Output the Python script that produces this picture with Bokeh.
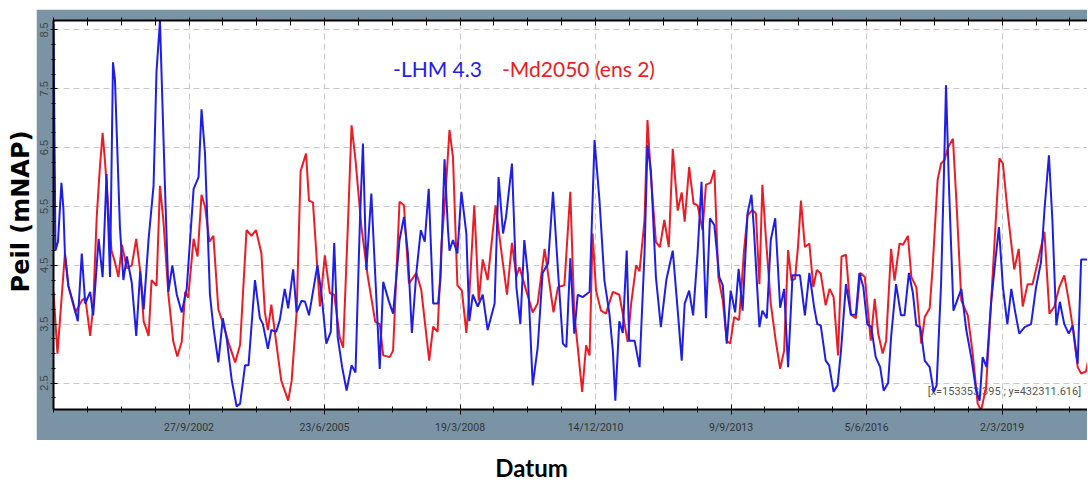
import math
import pandas as pd
from bokeh.plotting import figure
from bokeh.models import Range1d, FixedTicker, LinearAxis, Label, Spacer
from bokeh.layouts import row, column
from bokeh.embed import file_html
from bokeh.resources import INLINE

# ---------------- data (decimal years, heads in m NAP) ----------------
blue_t = [2000.00, 2000.04, 2000.09, 2000.16, 2000.20, 2000.23, 2000.30, 2000.40, 2000.49, 2000.57,
          2000.64, 2000.74, 2000.80, 2000.91, 2000.99, 2001.07, 2001.14, 2001.20, 2001.24, 2001.34,
          2001.41, 2001.48, 2001.58, 2001.67, 2001.75, 2001.82, 2001.92, 2002.02, 2002.08, 2002.15,
          2002.18, 2002.25, 2002.32, 2002.40, 2002.49, 2002.59, 2002.69, 2002.83, 2002.93, 2002.99,
          2003.06, 2003.16, 2003.23, 2003.33, 2003.42, 2003.50, 2003.60, 2003.70, 2003.77, 2003.87,
          2003.94, 2004.07, 2004.17, 2004.23, 2004.33, 2004.40, 2004.50, 2004.57, 2004.67, 2004.74,
          2004.84, 2004.91, 2005.01, 2005.08, 2005.16, 2005.33, 2005.41, 2005.51, 2005.60, 2005.67,
          2005.74, 2005.83, 2005.92, 2006.02, 2006.10, 2006.19, 2006.25, 2006.32, 2006.42, 2006.59,
          2006.66, 2006.77, 2006.86, 2006.99, 2007.08, 2007.16, 2007.24, 2007.33, 2007.42, 2007.50,
          2007.58, 2007.67, 2007.77, 2007.82, 2007.90, 2007.97, 2008.00, 2008.07, 2008.16, 2008.24,
          2008.34, 2008.40, 2008.47, 2008.57, 2008.67, 2008.77, 2008.91, 2008.99, 2009.08, 2009.14,
          2009.26, 2009.35, 2009.43, 2009.51, 2009.58, 2009.68, 2009.78, 2009.88, 2009.99, 2010.09,
          2010.19, 2010.29, 2010.36, 2010.44, 2010.52, 2010.59, 2010.69, 2010.83, 2010.93, 2011.03,
          2011.13, 2011.23, 2011.30, 2011.35, 2011.43, 2011.50, 2011.58, 2011.63, 2011.74, 2011.84,
          2011.94, 2012.00, 2012.07, 2012.17, 2012.27, 2012.38, 2012.51, 2012.61, 2012.69, 2012.75,
          2012.84, 2012.92, 2013.01, 2013.09, 2013.18, 2013.26, 2013.35, 2013.45, 2013.52, 2013.60,
          2013.68, 2013.77, 2013.84, 2013.92, 2014.02, 2014.10, 2014.15, 2014.26, 2014.32, 2014.41,
          2014.49, 2014.58, 2014.68, 2014.76, 2014.84, 2014.93, 2015.08, 2015.18, 2015.27, 2015.37,
          2015.43, 2015.50, 2015.60, 2015.67, 2015.76, 2015.84, 2015.91, 2016.01, 2016.11, 2016.21,
          2016.28, 2016.36, 2016.44, 2016.52, 2016.61, 2016.70, 2016.77, 2016.86, 2016.92, 2017.02,
          2017.12, 2017.19, 2017.28, 2017.36, 2017.43, 2017.51, 2017.60, 2017.70, 2017.78, 2017.84,
          2017.93, 2017.99, 2018.03, 2018.09, 2018.18, 2018.34, 2018.44, 2018.54, 2018.64, 2018.71,
          2018.77, 2018.85, 2018.94, 2019.03, 2019.10, 2019.18, 2019.27, 2019.35, 2019.43, 2019.51,
          2019.62, 2019.75, 2019.85, 2019.95, 2020.02, 2020.11, 2020.18, 2020.26, 2020.33, 2020.42,
          2020.51, 2020.59, 2020.69, 2020.76, 2020.92]
blue_v = [8.60, 4.75, 4.90, 5.90, 5.45, 4.70, 4.15, 3.85, 3.55, 4.70,
          3.85, 4.05, 3.65, 4.95, 4.30, 6.05, 4.30, 7.95, 7.65, 5.15,
          4.25, 4.65, 4.20, 3.30, 4.40, 3.75, 4.95, 5.85, 7.80, 8.65,
          7.80, 5.85, 4.05, 4.50, 4.00, 3.70, 4.10, 5.80, 6.00, 7.15,
          6.40, 4.00, 3.45, 2.85, 3.60, 3.25, 2.55, 2.10, 2.15, 2.80,
          2.80, 4.25, 3.60, 3.50, 3.08, 3.40, 3.37, 3.57, 4.10, 3.77,
          4.43, 3.70, 3.90, 3.88, 3.65, 4.50, 4.03, 3.17, 3.37, 4.88,
          3.28, 2.77, 2.37, 2.80, 2.68, 5.27, 6.57, 4.42, 5.72, 2.74,
          4.22, 3.90, 3.68, 4.93, 5.32, 4.70, 3.35, 4.37, 5.10, 4.90,
          5.80, 3.85, 3.85, 4.30, 6.30, 5.10, 4.75, 4.93, 4.70, 5.75,
          5.04, 3.55, 4.00, 3.80, 4.00, 3.40, 3.85, 6.00, 5.04, 5.32,
          6.23, 4.13, 3.50, 4.93, 4.36, 2.46, 3.10, 4.37, 4.53, 5.75,
          4.42, 3.17, 3.11, 4.62, 3.34, 4.00, 3.96, 4.05, 6.63, 5.60,
          4.24, 3.68, 3.05, 2.20, 3.55, 3.35, 4.75, 3.22, 3.22, 2.77,
          4.70, 6.54, 6.10, 4.30, 3.45, 4.25, 4.75, 3.73, 2.88, 3.85,
          4.07, 3.65, 4.70, 5.92, 3.60, 5.30, 5.18, 4.30, 4.16, 3.17,
          4.07, 3.70, 4.44, 3.73, 5.38, 5.70, 5.10, 3.45, 3.73, 3.60,
          4.93, 5.30, 3.78, 4.10, 2.77, 4.33, 4.33, 3.65, 4.37, 3.77,
          3.50, 3.48, 2.88, 2.80, 2.35, 2.46, 3.05, 4.18, 3.66, 3.66,
          4.37, 4.13, 3.50, 3.45, 2.94, 2.77, 2.37, 2.50, 3.28, 4.18,
          3.65, 3.65, 4.37, 4.03, 3.48, 3.45, 2.88, 2.77, 2.35, 2.46,
          4.18, 6.12, 7.56, 5.84, 3.73, 4.10, 3.40, 2.94, 2.37, 2.20,
          2.94, 2.77, 3.85, 4.60, 5.15, 4.13, 3.50, 4.10, 3.70, 3.34,
          3.45, 3.50, 4.13, 4.55, 5.44, 6.37, 5.27, 3.48, 3.88, 3.50,
          3.34, 3.48, 2.83, 4.60, 4.60]

red_t = [2000.00, 2000.08, 2000.23, 2000.30, 2000.44, 2000.57, 2000.64, 2000.74, 2000.80, 2000.87,
         2000.93, 2000.99, 2001.04, 2001.11, 2001.17, 2001.24, 2001.31, 2001.38, 2001.48, 2001.58,
         2001.67, 2001.75, 2001.82, 2001.92, 2001.98, 2002.08, 2002.15, 2002.22, 2002.32, 2002.42,
         2002.50, 2002.59, 2002.66, 2002.72, 2002.83, 2002.91, 2002.99, 2003.06, 2003.15, 2003.23,
         2003.33, 2003.43, 2003.53, 2003.67, 2003.77, 2003.90, 2004.00, 2004.09, 2004.20, 2004.27,
         2004.33, 2004.40, 2004.47, 2004.60, 2004.74, 2004.81, 2004.91, 2004.99, 2005.10, 2005.16,
         2005.24, 2005.38, 2005.48, 2005.58, 2005.67, 2005.78, 2005.85, 2005.95, 2006.02, 2006.10,
         2006.22, 2006.35, 2006.50, 2006.59, 2006.66, 2006.79, 2006.86, 2006.99, 2007.08, 2007.18,
         2007.33, 2007.43, 2007.59, 2007.67, 2007.76, 2007.84, 2007.92, 2008.00, 2008.07, 2008.16,
         2008.25, 2008.34, 2008.40, 2008.50, 2008.59, 2008.67, 2008.77, 2008.93, 2009.01, 2009.16,
         2009.26, 2009.35, 2009.41, 2009.51, 2009.68, 2009.78, 2009.92, 2010.02, 2010.10, 2010.19,
         2010.32, 2010.44, 2010.52, 2010.59, 2010.68, 2010.76, 2010.83, 2010.89, 2010.96, 2011.06,
         2011.16, 2011.30, 2011.43, 2011.50, 2011.60, 2011.67, 2011.77, 2011.84, 2011.94, 2012.00,
         2012.07, 2012.17, 2012.25, 2012.34, 2012.43, 2012.51, 2012.61, 2012.69, 2012.75, 2012.84,
         2012.93, 2013.01, 2013.11, 2013.18, 2013.27, 2013.35, 2013.43, 2013.52, 2013.60, 2013.67,
         2013.75, 2013.85, 2013.95, 2014.02, 2014.12, 2014.19, 2014.26, 2014.32, 2014.39, 2014.49,
         2014.59, 2014.68, 2014.76, 2014.84, 2014.91, 2014.98, 2015.04, 2015.10, 2015.18, 2015.27,
         2015.35, 2015.42, 2015.50, 2015.60, 2015.68, 2015.76, 2015.85, 2015.92, 2016.01, 2016.11,
         2016.21, 2016.30, 2016.39, 2016.51, 2016.59, 2016.66, 2016.75, 2016.82, 2016.92, 2016.99,
         2017.09, 2017.16, 2017.26, 2017.33, 2017.43, 2017.53, 2017.60, 2017.70, 2017.76, 2017.86,
         2017.93, 2018.00, 2018.07, 2018.17, 2018.24, 2018.34, 2018.47, 2018.57, 2018.67, 2018.74,
         2018.84, 2018.94, 2019.04, 2019.11, 2019.18, 2019.28, 2019.41, 2019.50, 2019.58, 2019.68,
         2019.78, 2019.89, 2020.02, 2020.12, 2020.22, 2020.32, 2020.42, 2020.51, 2020.59, 2020.69,
         2020.76, 2020.86, 2020.92]
red_v = [4.05, 3.00, 4.70, 4.15, 3.70, 3.90, 3.95, 3.30, 3.80, 5.30,
         6.10, 6.75, 6.25, 5.40, 4.75, 4.55, 4.30, 4.85, 4.45, 4.50,
         4.95, 4.40, 3.55, 3.30, 4.25, 4.15, 5.85, 5.25, 4.00, 3.20,
         2.95, 3.20, 4.05, 3.95, 4.95, 4.65, 5.70, 5.50, 4.90, 5.00,
         3.75, 3.50, 3.20, 2.85, 3.15, 5.10, 5.00, 5.10, 4.70, 3.70,
         3.40, 3.83, 3.37, 2.54, 2.20, 2.54, 3.70, 6.10, 6.40, 5.60,
         5.57, 3.80, 4.67, 4.03, 4.00, 3.28, 3.10, 5.27, 6.88, 6.29,
         5.15, 4.30, 3.54, 3.50, 2.97, 2.94, 3.05, 5.58, 5.52, 4.19,
         4.37, 4.08, 2.88, 3.46, 3.37, 4.87, 5.72, 6.80, 6.34, 4.16,
         4.07, 3.35, 4.00, 5.52, 3.90, 4.60, 4.25, 5.52, 4.97, 4.00,
         4.88, 4.30, 4.47, 4.18, 3.70, 3.85, 4.78, 4.18, 3.70, 4.13,
         4.16, 5.75, 3.68, 3.11, 2.35, 3.14, 2.97, 5.04, 4.07, 3.73,
         3.68, 4.05, 4.00, 3.68, 3.20, 3.85, 4.50, 4.40, 5.27, 6.97,
         6.00, 4.90, 4.81, 5.27, 4.81, 6.48, 5.43, 5.74, 5.24, 6.17,
         5.55, 5.52, 5.10, 5.87, 5.90, 6.12, 4.30, 3.90, 3.22, 3.17,
         3.62, 3.57, 4.76, 5.35, 5.44, 5.38, 4.18, 5.87, 4.98, 3.85,
         3.22, 2.74, 3.05, 4.76, 4.24, 4.27, 4.81, 5.60, 4.81, 4.87,
         4.13, 4.42, 4.36, 3.82, 4.10, 3.96, 2.97, 4.65, 4.68, 3.66,
         3.60, 4.37, 4.30, 3.22, 3.93, 3.34, 3.00, 3.22, 4.78, 4.24,
         4.87, 4.85, 5.00, 4.30, 4.13, 3.17, 3.62, 3.77, 4.47, 5.95,
         6.23, 6.29, 6.50, 6.65, 5.60, 3.90, 3.65, 3.00, 2.15, 2.03,
         2.43, 3.85, 5.32, 6.32, 6.23, 5.38, 4.43, 4.78, 3.80, 4.18,
         4.18, 4.58, 5.07, 3.68, 3.80, 4.13, 4.33, 3.90, 3.45, 2.77,
         2.66, 2.70, 2.97]

x_tick_dates = ["2002-09-27", "2005-06-23", "2008-03-19", "2010-12-14",
                "2013-09-09", "2016-06-05", "2019-03-02"]
x_tick_labels = ["27/9/2002", "23/6/2005", "19/3/2008", "14/12/2010",
                 "9/9/2013", "5/6/2016", "2/3/2019"]
y_ticks = [2.5, 3.5, 4.5, 5.5, 6.5, 7.5, 8.5]
series_names = ["-LHM 4.3", "-Md2050 (ens 2)"]
series_colors = ["#1e1ee8", "#ec1c24"]

FRAME = "#7a94a6"


def dec_to_ms(years):
    out = []
    for y in years:
        yi = int(y)
        s = pd.Timestamp(year=yi, month=1, day=1)
        e = pd.Timestamp(year=yi + 1, month=1, day=1)
        out.append((s + (e - s) * (y - yi)).value / 1e6)
    return out


def date_ms(s):
    return pd.Timestamp(s).value // 10**6


x0 = pd.Timestamp("2000-01-01")
x1 = pd.Timestamp("2020-11-21")

major_ms = [date_ms(d) for d in x_tick_dates]
minor_ms = [(x0 + pd.Timedelta(days=250 * k)).value // 10**6 for k in range(0, 32)]
x_ticker = FixedTicker(ticks=major_ms, minor_ticks=minor_ms)
top_ticker = FixedTicker(ticks=[], minor_ticks=minor_ms)
y_minor = [2.0 + 0.25 * k for k in range(0, 28)]
y_ticker = FixedTicker(ticks=y_ticks, minor_ticks=y_minor)

p = figure(width=1051, height=431, x_axis_type="datetime",
           output_backend="svg", toolbar_location=None,
           x_range=Range1d(x0.value // 10**6, x1.value // 10**6),
           y_range=Range1d(2.05, 8.66),
           min_border_left=17, min_border_right=0, min_border_top=11, min_border_bottom=31,
           border_fill_color=FRAME, background_fill_color="white",
           outline_line_color=None)

# bottom axis
xa = p.xaxis[0]
xa.ticker = x_ticker
xa.major_label_overrides = {m: l for m, l in zip(major_ms, x_tick_labels)}
xa.axis_line_color = "black"
xa.axis_line_width = 2
xa.major_tick_line_color = "black"
xa.major_tick_in = 5
xa.major_tick_out = 5
xa.minor_tick_line_color = "black"
xa.minor_tick_in = 3
xa.minor_tick_out = 3
xa.major_label_standoff = 6
xa.major_label_text_font = "Roboto"
xa.major_label_text_font_size = "10.5px"
xa.major_label_text_color = "#333333"

# left axis
ya = p.yaxis[0]
ya.ticker = y_ticker
ya.axis_line_color = "black"
ya.axis_line_width = 2
ya.major_tick_line_color = "black"
ya.major_tick_in = 4
ya.major_tick_out = 3
ya.minor_tick_line_color = "black"
ya.minor_tick_in = 2
ya.minor_tick_out = 2
ya.major_label_standoff = 2
ya.major_label_orientation = "vertical"
ya.major_label_text_font = "Liberation Sans"
ya.major_label_text_font_size = "11px"
ya.major_label_text_color = "#444444"

# top axis (tick marks only)
ta = LinearAxis(ticker=top_ticker, axis_line_color="black", axis_line_width=2,
                major_tick_line_color="black", major_tick_in=5, major_tick_out=3,
                minor_tick_line_color="black", minor_tick_in=5, minor_tick_out=3,
                major_label_standoff=0)
p.add_layout(ta, "above")

for g in (p.xgrid, p.ygrid):
    g.grid_line_color = "#c8c8c8"
    g.grid_line_dash = "6 4"
    g.grid_line_width = 1
p.xgrid.ticker = x_ticker
p.ygrid.ticker = y_ticker

# coordinate read-out text (under the lines)
p.add_layout(Label(x=dec_to_ms([2017.66])[0], y=2.36, text="[x=153353.395 ; y=432311.616]",
                   text_font="Roboto", text_font_size="11px", text_color="#555555",
                   text_baseline="middle", level="underlay"))

p.line(dec_to_ms(red_t), red_v, line_color=series_colors[1], line_width=2)
p.line(dec_to_ms(blue_t), blue_v, line_color=series_colors[0], line_width=2)

p.add_layout(Label(x=dec_to_ms([2006.86])[0], y=7.85, text=series_names[0],
                   text_font="Lato", text_font_size="21px", text_color=series_colors[0],
                   text_baseline="middle"))
p.add_layout(Label(x=dec_to_ms([2009.06])[0], y=7.85, text=series_names[1],
                   text_font="Lato", text_font_size="21px", text_color=series_colors[1],
                   text_baseline="middle"))

# y-axis title panel
yl = figure(width=36, height=440, output_backend="svg", toolbar_location=None,
            x_range=Range1d(0, 36), y_range=Range1d(0, 440),
            x_axis_location=None, y_axis_location=None,
            min_border=0, border_fill_color="white", background_fill_color="white",
            outline_line_color=None)
yl.grid.visible = False
yl.add_layout(Label(x=20, y=229, text="Peil (mNAP)", angle=math.pi / 2,
                    text_align="center", text_baseline="middle",
                    text_font="DejaVu Sans", text_font_style="bold",
                    text_font_size="24px", text_color="black"))

# x-axis title panel
xl = figure(width=1087, height=44, output_backend="svg", toolbar_location=None,
            x_range=Range1d(0, 1087), y_range=Range1d(0, 44),
            x_axis_location=None, y_axis_location=None,
            min_border=0, border_fill_color="white", background_fill_color="white",
            outline_line_color=None)
xl.grid.visible = False
xl.add_layout(Label(x=531, y=17, text="Datum", text_align="center", text_baseline="middle",
                    text_font="Lato", text_font_style="bold", text_font_size="24px",
                    text_color="black"))

top = row(yl, column(Spacer(width=1051, height=9), p, spacing=0), spacing=0)
layout = column(top, xl, spacing=0)

open("out.html", "w").write(file_html(layout, INLINE))
